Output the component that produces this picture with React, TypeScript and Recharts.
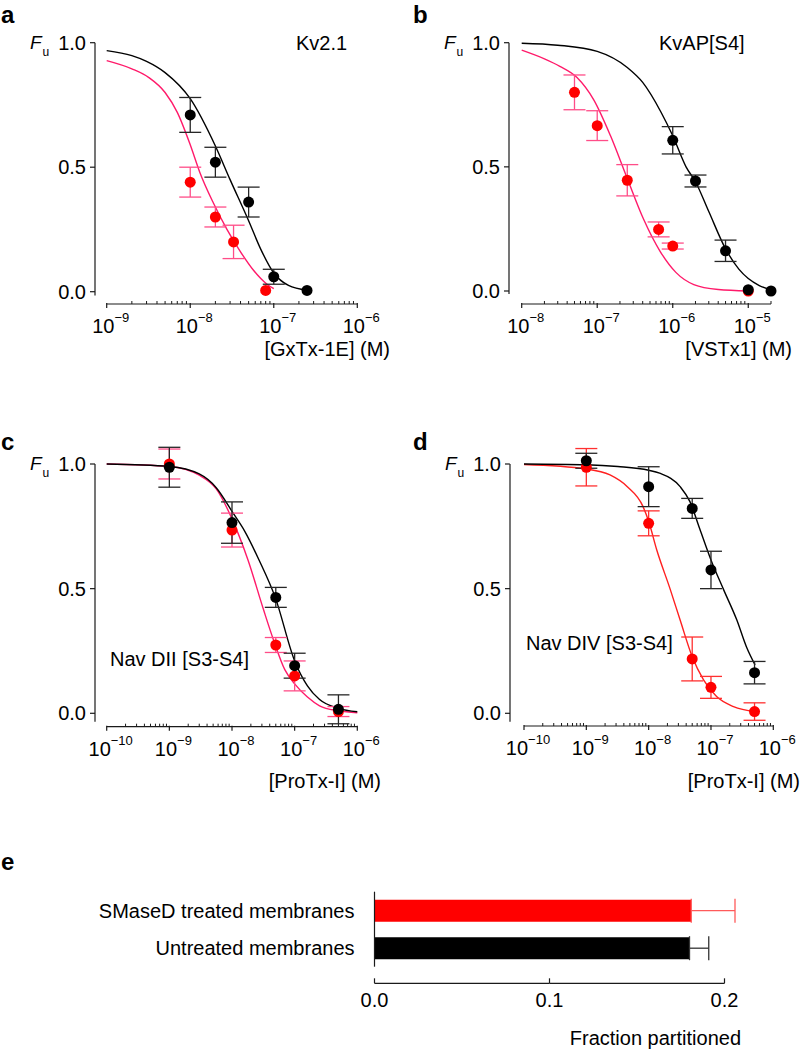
import React from 'react';
import {
  ComposedChart,
  BarChart,
  Bar,
  Cell,
  Line,
  Scatter,
  XAxis,
  YAxis,
  ErrorBar,
  ReferenceLine,
} from 'recharts';

const FONT = '"Liberation Sans", Arial, Helvetica, sans-serif';
const AXIS = '#1a1a1a';
const BLACK = '#000000';
const RED = '#ff0000';
const PINK = '#ff1a6a';
const PINK_ERR = '#ff4d88';

// ---- panel a: Kv2.1 / [GxTx-1E] ----
const aTicks = [1e-9, 1e-8, 1e-7, 1e-6];
const aBlackConc = [1e-8, 2e-8, 5e-8, 1e-7, 2.5e-7];
const aBlackFu = [0.71, 0.52, 0.36, 0.06, 0.005];
const aBlackErr = [0.07, 0.06, 0.06, 0.03, null];
const aRedConc = [1e-8, 2e-8, 3.3e-8, 8e-8];
const aRedFu = [0.44, 0.3, 0.2, 0.005];
const aRedErr = [0.06, 0.04, 0.067, null];
const aBlackFitConc = [1e-9, 2e-9, 3e-9, 5e-9, 1e-8, 2e-8, 3e-8, 5e-8, 7e-8, 1e-7, 1.5e-7, 2.5e-7];
const aBlackFitFu = [0.968, 0.948, 0.925, 0.88, 0.775, 0.585, 0.45, 0.285, 0.17, 0.075, 0.025, 0.006];
const aRedFitConc = [1e-9, 2e-9, 3.2e-9, 5e-9, 7e-9, 1e-8, 1.3e-8, 1.9e-8, 2.75e-8, 4e-8, 5.75e-8, 8.3e-8, 1e-7];
const aRedFitFu = [0.928, 0.895, 0.86, 0.8, 0.72, 0.59, 0.48, 0.355, 0.25, 0.16, 0.085, 0.03, 0.012];

// ---- panel b: KvAP[S4] / [VSTx1] ----
const bTicks = [1e-8, 1e-7, 1e-6, 1e-5];
const bBlackConc = [1e-6, 2e-6, 5e-6, 1e-5, 2e-5];
const bBlackFu = [0.607, 0.443, 0.162, 0.005, 0.0];
const bBlackErr = [0.055, 0.024, 0.043, null, null];
const bRedConc = [5e-8, 1e-7, 2.5e-7, 6.5e-7, 1e-6, 1e-5];
const bRedFu = [0.8, 0.666, 0.446, 0.248, 0.181, 0.0];
const bRedErr = [0.07, 0.06, 0.063, 0.03, 0.012, null];
const bBlackFitConc = [1e-8, 3e-8, 1e-7, 2.5e-7, 4e-7, 7e-7, 1e-6, 1.5e-6, 2e-6, 3e-6, 5e-6, 7.5e-6, 1e-5, 1.4e-5, 2e-5];
const bBlackFitFu = [0.998, 0.99, 0.965, 0.9, 0.84, 0.72, 0.625, 0.5, 0.44, 0.32, 0.17, 0.088, 0.05, 0.022, 0.004];
const bRedFitConc = [1e-8, 2e-8, 3.2e-8, 5.4e-8, 9e-8, 1.5e-7, 2.45e-7, 4.1e-7, 6.8e-7, 1.1e-6, 1.9e-6, 4e-6, 1e-5];
const bRedFitFu = [0.97, 0.935, 0.905, 0.86, 0.77, 0.625, 0.46, 0.29, 0.16, 0.075, 0.026, 0.006, 0.0];

// ---- panel c: Nav DII [S3-S4] / [ProTx-I] ----
const cTicks = [1e-10, 1e-9, 1e-8, 1e-7, 1e-6];
const cBlackConc = [1e-9, 1e-8, 5e-8, 1e-7, 5e-7];
const cBlackFu = [0.987, 0.765, 0.465, 0.191, 0.016];
const cBlackErr = [0.08, 0.083, 0.04, 0.05, 0.058];
const cRedConc = [1e-9, 1e-8, 5e-8, 1e-7, 5e-7];
const cRedFu = [1.0, 0.735, 0.274, 0.15, 0.007];
const cRedErr = [0.06, 0.068, 0.03, 0.06, 0.02];
const cBlackFitConc = [1e-10, 1e-9, 3e-9, 5.6e-9, 1e-8, 1.6e-8, 2.7e-8, 4.9e-8, 1e-7, 1.6e-7, 2.5e-7, 5e-7, 1e-6];
const cBlackFitFu = [1.0, 0.99, 0.96, 0.905, 0.81, 0.73, 0.615, 0.465, 0.21, 0.11, 0.055, 0.02, 0.006];
const cRedFitConc = [1e-10, 1e-9, 3e-9, 5.6e-9, 1e-8, 1.8e-8, 3.2e-8, 4.6e-8, 7e-8, 1e-7, 1.6e-7, 2.5e-7, 5e-7, 1e-6];
const cRedFitFu = [1.0, 0.99, 0.955, 0.9, 0.78, 0.615, 0.414, 0.294, 0.174, 0.118, 0.065, 0.03, 0.01, 0.002];

// ---- panel d: Nav DIV [S3-S4] / [ProTx-I] ----
const dTicks = [1e-10, 1e-9, 1e-8, 1e-7, 1e-6];
const dBlackConc = [1e-9, 1e-8, 5e-8, 1e-7, 5e-7];
const dBlackFu = [1.013, 0.909, 0.822, 0.575, 0.163];
const dBlackErr = [0.03, 0.08, 0.04, 0.075, 0.045];
const dRedConc = [1e-9, 1e-8, 5e-8, 1e-7, 5e-7];
const dRedFu = [0.987, 0.762, 0.218, 0.104, 0.007];
const dRedErr = [0.075, 0.05, 0.088, 0.044, 0.035];
const dBlackFitConc = [1e-10, 1e-9, 3.2e-9, 1e-8, 1.5e-8, 3.2e-8, 4.6e-8, 6.6e-8, 1e-7, 1.6e-7, 2.6e-7, 3.7e-7, 5.1e-7];
const dBlackFitFu = [1.0, 0.997, 0.99, 0.975, 0.963, 0.909, 0.849, 0.74, 0.615, 0.495, 0.374, 0.267, 0.194];
const dRedFitConc = [1e-10, 1e-9, 2.4e-9, 4.5e-9, 8.1e-9, 1e-8, 1.35e-8, 2.2e-8, 3.2e-8, 5e-8, 7.6e-8, 1.23e-7, 2.3e-7, 5.1e-7];
const dRedFitFu = [0.998, 0.98, 0.956, 0.91, 0.83, 0.77, 0.655, 0.5, 0.374, 0.227, 0.134, 0.067, 0.027, 0.007];

// ---- panel e: fraction partitioned ----
const eCategories = ['SMaseD treated membranes', 'Untreated membranes'];
const eFraction = [0.181, 0.18];
const eErr = [0.025, 0.011];
const eTicks = [0, 0.1, 0.2];
const eBarColors = [RED, BLACK];
const eErrColors = ['#ff5a5a', '#333333'];

type Pt = { x: number; y: number; err?: number };

const toPts = (xs: number[], ys: number[], errs?: (number | null)[]): Pt[] =>
  xs.map((x, i) => {
    const e = errs ? errs[i] : null;
    return e == null ? { x, y: ys[i] } : { x, y: ys[i], err: e };
  });

// layout of the four dose-response panels, in page pixels
interface Geom {
  left: number;
  top: number;
  width: number;
  height: number;
  axisX: number; // y axis line
  y1: number; // Fu = 1
  y0: number; // Fu = 0
  axisY: number; // x axis line
  xMin: number;
  xMax: number;
  xMinPx: number;
  xMaxPx: number;
  yAxisEnd: number;
}

const Y_AXIS_W = 60;
const X_AXIS_H = 40;
const TOP_ROOM = 25;

const geomA: Geom = { left: 0, top: 0, width: 400, height: 380, axisX: 95, y1: 42.7, y0: 291.7, axisY: 304, xMin: 1e-9, xMax: 1e-6, xMinPx: 106.7, xMaxPx: 357.3, yAxisEnd: -0.015 };
const geomB: Geom = { left: 400, top: 0, width: 401, height: 380, axisX: 509, y1: 42.7, y0: 291, axisY: 304, xMin: 1e-8, xMax: 2e-5, xMinPx: 521.7, xMaxPx: 771, yAxisEnd: -0.012 };
const geomC: Geom = { left: 0, top: 420, width: 400, height: 400, axisX: 95, y1: 464, y0: 713.3, axisY: 726.7, xMin: 1e-10, xMax: 1e-6, xMinPx: 106.7, xMaxPx: 357.3, yAxisEnd: -0.034 };
const geomD: Geom = { left: 400, top: 420, width: 401, height: 400, axisX: 510, y1: 464, y0: 713.3, axisY: 726, xMin: 1e-10, xMax: 1e-6, xMinPx: 524, xMaxPx: 773.3, yAxisEnd: -0.034 };

const withMinors = (majors: number[], max: number) => {
  const out: number[] = [];
  majors.forEach((m) => {
    for (let k = 1; k < 10; k++) {
      const v = m * k;
      if (v <= max * 1.0001) out.push(v);
    }
  });
  return out;
};

const LogTick = (props: any) => {
  const { x, y, payload } = props;
  const lg = Math.log10(payload.value);
  const exp = Math.round(lg);
  if (Math.abs(lg - exp) > 1e-6) {
    return <line x1={x} x2={x} y1={y - 3} y2={y} stroke={AXIS} strokeWidth={1} />;
  }
  return (
    <g>
      <line x1={x} x2={x} y1={y - 1} y2={y + 4} stroke={AXIS} strokeWidth={1.2} />
      <text x={x + 4} y={y + 29} textAnchor="middle" fontFamily={FONT} fontSize={20} fill="#000">
        10
        <tspan fontSize={13} dy={-11}>{'\u2212' + Math.abs(exp)}</tspan>
      </text>
    </g>
  );
};

const dotShape = (color: string) => (p: any) => <circle cx={p.cx} cy={p.cy} r={5.5} fill={color} />;

interface PanelProps {
  g: Geom;
  ticks: number[];
  black: Pt[];
  red: Pt[];
  blackFit: Pt[];
  redFit: Pt[];
  fitColor: string;
  errColor: string;
}

const DosePanel: React.FC<PanelProps> = ({ g, ticks, black, red, blackFit, redFit, fitColor, errColor }) => {
  const decadePx = (g.xMaxPx - g.xMinPx) / Math.log10(g.xMax / g.xMin);
  const xOrigin = g.xMin / Math.pow(10, (g.xMinPx - g.axisX) / decadePx);
  const unitPx = g.y0 - g.y1;
  const yLow = -(g.axisY - g.y0) / unitPx;
  const yHigh = 1 + TOP_ROOM / unitPx;
  const margin = {
    top: g.y1 - TOP_ROOM - g.top,
    left: g.axisX - g.left - Y_AXIS_W,
    right: g.left + g.width - g.xMaxPx,
    bottom: g.top + g.height - g.axisY - X_AXIS_H,
  };

  return (
    <div style={{ position: 'absolute', left: g.left, top: g.top }}>
      <ComposedChart width={g.width} height={g.height} margin={margin}>
        <XAxis
          dataKey="x"
          type="number"
          scale="log"
          domain={[xOrigin, g.xMax]}
          ticks={withMinors(ticks, g.xMax)}
          interval={0}
          tick={(p: any) => <LogTick {...p} />}
          tickLine={false}
          axisLine={false}
          tickSize={0}
          tickMargin={0}
          height={X_AXIS_H}
        />
        <YAxis
          dataKey="y"
          type="number"
          domain={[yLow, yHigh]}
          ticks={[0, 0.5, 1]}
          tickFormatter={(v: number) => v.toFixed(1)}
          axisLine={false}
          tickSize={5}
          tickMargin={4}
          tickLine={{ stroke: AXIS, strokeWidth: 1.2 }}
          tick={{ fontSize: 20, fill: '#000', fontFamily: FONT }}
          width={Y_AXIS_W}
        />
        <ReferenceLine
          segment={[{ x: xOrigin, y: 1 }, { x: xOrigin, y: g.yAxisEnd }]}
          stroke={AXIS}
          strokeWidth={1.2}
          ifOverflow="visible"
        />
        <ReferenceLine
          segment={[{ x: g.xMin, y: yLow }, { x: g.xMax, y: yLow }]}
          stroke={AXIS}
          strokeWidth={1.2}
          ifOverflow="visible"
        />
        <Line data={redFit} dataKey="y" type="monotone" stroke={fitColor} strokeWidth={1.4} dot={false} activeDot={false} isAnimationActive={false} />
        <Line data={blackFit} dataKey="y" type="monotone" stroke={BLACK} strokeWidth={1.4} dot={false} activeDot={false} isAnimationActive={false} />
        <Scatter data={red} fill={RED} shape={dotShape(RED)} isAnimationActive={false}>
          <ErrorBar dataKey="err" direction="y" width={11} stroke={errColor} strokeWidth={1.3} />
        </Scatter>
        <Scatter data={black} fill={BLACK} shape={dotShape(BLACK)} isAnimationActive={false}>
          <ErrorBar dataKey="err" direction="y" width={11} stroke="#262626" strokeWidth={1.3} />
        </Scatter>
      </ComposedChart>
    </div>
  );
};

// ---- panel e layout ----
const E_BOX = { left: 0, top: 860, width: 801, height: 190 };
const E_PLOT = { left: 374.5, top: 891.7, bottom: 966.7 };
const E_X_MAX = 0.22;
const E_PX_PER_UNIT = 1750;
const E_Y_W = 300;
const E_X_H = 60;
const E_AXIS_DROP = 16.6;

const ETick = (props: any) => {
  const { x, y, payload } = props;
  const ay = y + E_AXIS_DROP;
  const last = payload.value >= eTicks[eTicks.length - 1] - 1e-9;
  const step = (eTicks[1] - eTicks[0]) * E_PX_PER_UNIT;
  return (
    <g>
      {!last && <line x1={x} x2={x + step} y1={ay} y2={ay} stroke={AXIS} strokeWidth={1.2} />}
      <line x1={x} x2={x} y1={ay - 5} y2={ay} stroke={AXIS} strokeWidth={1.2} />
      <text x={x} y={ay + 24} textAnchor="middle" fontFamily={FONT} fontSize={20} fill="#000">
        {payload.value.toFixed(1)}
      </text>
    </g>
  );
};

const PanelE: React.FC = () => {
  const rows = eCategories.map((name, i) => {
    const row: any = { name, value: eFraction[i] };
    row[`err${i}`] = [0, eErr[i]];
    return row;
  });
  const plotRight = E_PLOT.left + E_X_MAX * E_PX_PER_UNIT;
  const margin = {
    top: E_PLOT.top - E_BOX.top,
    left: E_PLOT.left - E_BOX.left - E_Y_W,
    right: E_BOX.left + E_BOX.width - plotRight,
    bottom: E_BOX.top + E_BOX.height - E_PLOT.bottom - E_X_H,
  };
  return (
    <div style={{ position: 'absolute', left: E_BOX.left, top: E_BOX.top }}>
      <BarChart layout="vertical" width={E_BOX.width} height={E_BOX.height} data={rows} margin={margin} barSize={22}>
        <XAxis
          type="number"
          domain={[0, E_X_MAX]}
          ticks={eTicks}
          interval={0}
          tick={(p: any) => <ETick {...p} />}
          tickLine={false}
          axisLine={false}
          tickSize={0}
          tickMargin={0}
          height={E_X_H}
        />
        <YAxis
          type="category"
          dataKey="name"
          width={E_Y_W}
          axisLine={{ stroke: AXIS, strokeWidth: 1.2 }}
          tickLine={false}
          tickSize={0}
          tickMargin={20}
          tick={{ fontSize: 20, fill: '#000', fontFamily: FONT }}
        />
        <Bar dataKey="value" isAnimationActive={false}>
          {rows.map((r, i) => (
            <Cell key={r.name} fill={eBarColors[i]} />
          ))}
          {eCategories.map((c, i) => (
            <ErrorBar key={c} dataKey={`err${i}`} direction="x" width={12} stroke={eErrColors[i]} strokeWidth={1.3} />
          ))}
        </Bar>
      </BarChart>
    </div>
  );
};

const Fu: React.FC<{ g: Geom }> = ({ g }) => (
  <text x={g.axisX - 65} y={g.y1 + 6} fontFamily={FONT} fill="#000">
    <tspan fontSize={19} fontStyle="italic">F</tspan>
    <tspan fontSize={12} dx={1} dy={7}>u</tspan>
  </text>
);

export default function App() {
  const txt = { fontFamily: FONT, fontSize: 20, fill: '#000' };
  const bold = { fontFamily: FONT, fontSize: 24, fontWeight: 700, fill: '#000' };
  return (
    <div style={{ position: 'absolute', left: 0, top: 0, width: 801, height: 1050, background: '#fff' }}>
      <DosePanel
        g={geomA}
        ticks={aTicks}
        black={toPts(aBlackConc, aBlackFu, aBlackErr)}
        red={toPts(aRedConc, aRedFu, aRedErr)}
        blackFit={toPts(aBlackFitConc, aBlackFitFu)}
        redFit={toPts(aRedFitConc, aRedFitFu)}
        fitColor={PINK}
        errColor={PINK_ERR}
      />
      <DosePanel
        g={geomB}
        ticks={bTicks}
        black={toPts(bBlackConc, bBlackFu, bBlackErr)}
        red={toPts(bRedConc, bRedFu, bRedErr)}
        blackFit={toPts(bBlackFitConc, bBlackFitFu)}
        redFit={toPts(bRedFitConc, bRedFitFu)}
        fitColor={PINK}
        errColor={PINK_ERR}
      />
      <DosePanel
        g={geomC}
        ticks={cTicks}
        black={toPts(cBlackConc, cBlackFu, cBlackErr)}
        red={toPts(cRedConc, cRedFu, cRedErr)}
        blackFit={toPts(cBlackFitConc, cBlackFitFu)}
        redFit={toPts(cRedFitConc, cRedFitFu)}
        fitColor={PINK}
        errColor={PINK_ERR}
      />
      <DosePanel
        g={geomD}
        ticks={dTicks}
        black={toPts(dBlackConc, dBlackFu, dBlackErr)}
        red={toPts(dRedConc, dRedFu, dRedErr)}
        blackFit={toPts(dBlackFitConc, dBlackFitFu)}
        redFit={toPts(dRedFitConc, dRedFitFu)}
        fitColor="#ff2020"
        errColor="#ff3030"
      />
      <PanelE />
      <svg width={801} height={1050} style={{ position: 'absolute', left: 0, top: 0, pointerEvents: 'none' }}>
        <text x={1} y={23} {...bold}>a</text>
        <text x={413} y={23} {...bold}>b</text>
        <text x={1} y={450} {...bold}>c</text>
        <text x={413} y={450} {...bold}>d</text>
        <text x={1} y={870} {...bold}>e</text>

        <Fu g={geomA} />
        <Fu g={geomB} />
        <Fu g={geomC} />
        <Fu g={geomD} />

        <text x={296} y={50} {...txt}>Kv2.1</text>
        <text x={659} y={50} {...txt}>KvAP[S4]</text>
        <text x={110} y={666} {...txt}>Nav DII [S3-S4]</text>
        <text x={526} y={650} {...txt}>Nav DIV [S3-S4]</text>

        <text x={390} y={356} textAnchor="end" {...txt}>[GxTx-1E] (M)</text>
        <text x={792} y={356} textAnchor="end" {...txt}>[VSTx1] (M)</text>
        <text x={381} y={788} textAnchor="end" {...txt}>[ProTx-I] (M)</text>
        <text x={800} y={788} textAnchor="end" {...txt}>[ProTx-I] (M)</text>
        <text x={741} y={1045} textAnchor="end" {...txt}>Fraction partitioned</text>
      </svg>
    </div>
  );
}
